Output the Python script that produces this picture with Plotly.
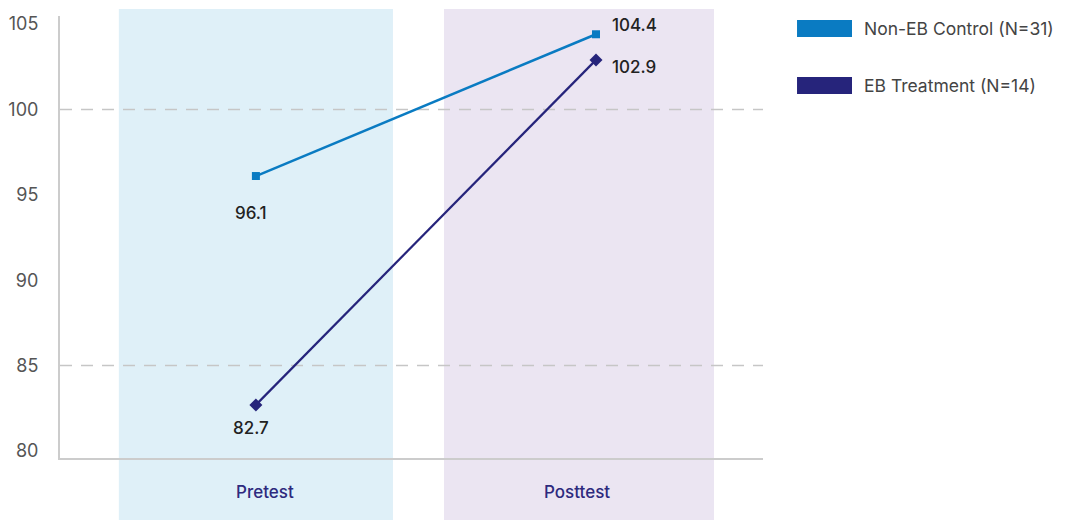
import plotly.graph_objects as go

# ---- data ----
phases = ["Pretest", "Posttest"]
control_name = "Non-EB Control (N=31)"
treatment_name = "EB Treatment (N=14)"
control_values = [96.1, 104.4]
treatment_values = [82.7, 102.9]
y_ticks = [80, 85, 90, 95, 100, 105]
ref_lines = [100, 85]

# ---- styles ----
c_control = "#0a7bc2"
c_treat = "#26247b"
band_colors = ["#dff0f8", "#ebe5f2"]
FONT = "Inter"

xpos = list(range(len(phases)))

fig = go.Figure()
fig.add_trace(go.Scatter(x=xpos, y=control_values, mode="lines+markers",
                         line=dict(color=c_control, width=2.5),
                         marker=dict(symbol="square", size=8, color=c_control),
                         name=control_name, showlegend=False, cliponaxis=False))
fig.add_trace(go.Scatter(x=xpos, y=treatment_values, mode="lines+markers",
                         line=dict(color=c_treat, width=2.2),
                         marker=dict(symbol="diamond", size=10, color=c_treat),
                         name=treatment_name, showlegend=False, cliponaxis=False))

# background bands per category
band_half = [(-0.403, 0.403), (-0.447, 0.347)]
for i, x in enumerate(xpos):
    fig.add_shape(type="rect", xref="x", yref="paper",
                  x0=x + band_half[i][0], x1=x + band_half[i][1],
                  y0=-0.14, y1=1.016, fillcolor=band_colors[i],
                  line=dict(width=0), layer="below")

# dashed reference lines
for v in ref_lines:
    fig.add_shape(type="line", xref="paper", yref="y", x0=0, x1=1, y0=v, y1=v,
                  line=dict(color="#c6c6c6", width=1.5, dash="12px,9px"), layer="below")

# category labels (placed under the bands)
label_shift = [9, -19]
for x, name, dx in zip(xpos, phases, label_shift):
    fig.add_annotation(x=x, y=0, xref="x", yref="paper", text=name,
                       showarrow=False, xshift=dx, yshift=-34, yanchor="middle",
                       font=dict(family=FONT, size=17, color="#2e2a7e", weight=500))

# value labels
shifts_c = [(-5, -37), (38, 9)]
shifts_t = [(-5, -23), (38, -7)]
for vals, shifts in ((control_values, shifts_c), (treatment_values, shifts_t)):
    for x, v, (dx, dy) in zip(xpos, vals, shifts):
        fig.add_annotation(x=x, y=v, xref="x", yref="y", text=f"{v}",
                           showarrow=False, xshift=dx, yshift=dy,
                           font=dict(family=FONT, size=17, color="#222222", weight=500))

# manual legend
legend_items = [(control_name, c_control, 0.991, 0.9525),
                (treatment_name, c_treat, 0.862, 0.8235)]
for name, col, ytop, ybot in legend_items:
    fig.add_shape(type="rect", xref="paper", yref="paper",
                  x0=1.0484, x1=1.1266, y0=ybot, y1=ytop,
                  fillcolor=col, line=dict(width=0))
    fig.add_annotation(xref="paper", yref="paper", x=1.1408, y=(ytop + ybot) / 2,
                       text=name, showarrow=False, xanchor="left", yanchor="middle",
                       font=dict(family=FONT, size=17.5, color="#444444"))

fig.update_layout(
    width=1078, height=520,
    margin=dict(l=60, r=315, t=16, b=62),
    paper_bgcolor="white", plot_bgcolor="rgba(0,0,0,0)",
    font=dict(family=FONT),
    xaxis=dict(range=[-0.576, 1.491], tickvals=xpos, showticklabels=False,
               showgrid=False, zeroline=False, showline=True,
               linecolor="#cccccc", linewidth=2, ticks="", automargin=False),
    yaxis=dict(range=[79.59, 105.47], tickvals=y_ticks, showgrid=False,
               zeroline=False, showline=True, linecolor="#cccccc", linewidth=2,
               ticks="", automargin=False,
               tickfont=dict(family=FONT, size=18, color="#555555"),
               ticklabelstandoff=16),
)

fig.write_html("out.html")
